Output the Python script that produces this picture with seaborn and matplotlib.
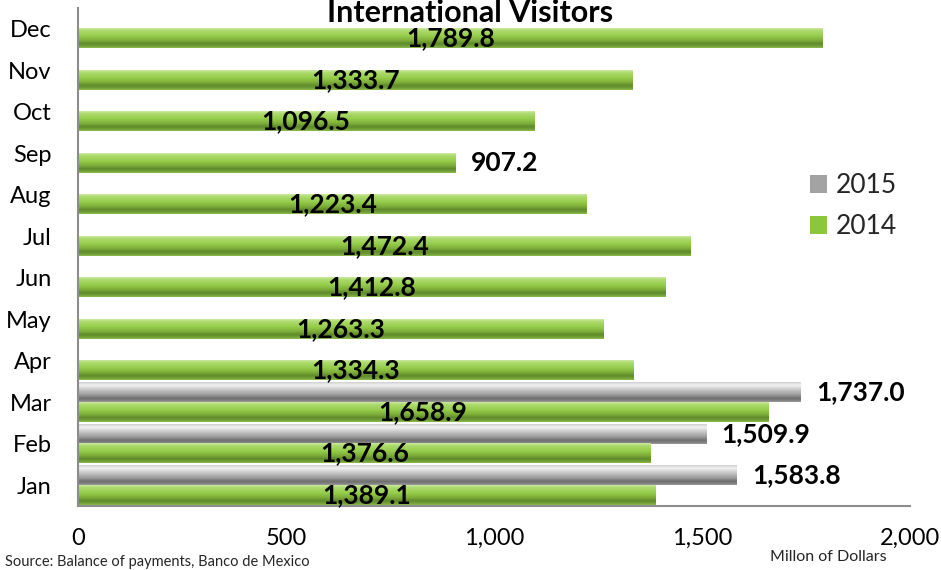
import numpy as np
import pandas as pd
import matplotlib
matplotlib.use("Agg")
import matplotlib.pyplot as plt
import seaborn as sns
from matplotlib.colors import to_rgb

months = ["Jan", "Feb", "Mar", "Apr", "May", "Jun", "Jul", "Aug", "Sep", "Oct", "Nov", "Dec"]
values_2014 = [1389.1, 1376.6, 1658.9, 1334.3, 1263.3, 1412.8, 1472.4, 1223.4, 907.2, 1096.5, 1333.7, 1789.8]
months_2015 = ["Jan", "Feb", "Mar"]
values_2015 = [1583.8, 1509.9, 1737.0]
outside_2014 = ["Sep"]
title = "International Visitors"
x_ticks = [0, 500, 1000, 1500, 2000]
x_label = "Millon of Dollars"
source = "Source: Balance of payments, Banco de Mexico"

df = pd.concat([
    pd.DataFrame({"month": months_2015, "value": values_2015, "year": "2015"}),
    pd.DataFrame({"month": months, "value": values_2014, "year": "2014"}),
], ignore_index=True)

sns.set_theme(style="white")
plt.rcParams["font.family"] = ["Lato", "DejaVu Sans"]

fig = plt.figure(figsize=(9.41, 5.70), dpi=100)
ax = fig.add_axes([78 / 941, 1 - 506 / 570, (910 - 78) / 941, (506 - 8) / 570])

order = months[::-1]
palette = {"2015": "#a3a3a3", "2014": "#8cc63f"}
sns.barplot(data=df, y="month", x="value", hue="year", order=order,
            hue_order=["2015", "2014"], palette=palette, orient="h",
            width=0.94, gap=0, ax=ax, saturation=1, legend=True,
            edgecolor="none", linewidth=0)


def grad(stops, n=64):
    pos = np.array([s[0] for s in stops])
    cols = np.array([to_rgb(s[1]) for s in stops])
    t = np.linspace(0, 1, n)
    arr = np.stack([np.interp(t, pos, cols[:, i]) for i in range(3)], axis=1)
    return arr[:, None, :]


grad_green = grad([(0, "#cfe9a6"), (0.1, "#b0dc72"), (0.4, "#94cc4a"), (0.62, "#7fae3a"),
                   (0.78, "#5f8a2b"), (0.9, "#6f9c35"), (1, "#8cba4c")])
grad_gray = grad([(0, "#cfcfcf"), (0.15, "#f2f2f2"), (0.4, "#c4c4c4"), (0.65, "#9a9a9a"),
                  (0.82, "#6e6e6e"), (0.92, "#808080"), (1, "#9a9a9a")])

hue_levels = ["2015", "2014"]
for cont, lvl in zip(ax.containers, hue_levels):
    g = grad_gray if lvl == "2015" else grad_green
    for p in cont.patches:
        w = p.get_width()
        if not np.isfinite(w) or w == 0:
            continue
        y0, h = p.get_y(), p.get_height()
        ax.imshow(g, extent=(0, w, y0 + h, y0), aspect="auto", zorder=2.5,
                  interpolation="bilinear")
        idx = int(round(y0 + h / 2))
        month = order[idx]
        label = f"{w:,.1f}"
        if lvl == "2015" or month in outside_2014:
            ax.annotate(label, xy=(w, y0 + h / 2), xytext=(11, 0),
                        textcoords="offset points", ha="left", va="center",
                        fontsize=19, fontweight="bold", color="black", zorder=4)
        else:
            ax.text(w / 2, y0 + h / 2, label, ha="center", va="center",
                    fontsize=19, fontweight="bold", color="black", zorder=4)

ax.set_xlim(0, 2000)
ax.set_ylim(11.5, -0.5)
ax.set_xticks(x_ticks)
ax.set_xticklabels([f"{t:,}" for t in x_ticks])
ax.set_xlabel("")
ax.set_ylabel("")
ax.tick_params(axis="y", length=0, pad=19, labelsize=17, labelcolor="black")
ax.tick_params(axis="x", length=0, pad=16, labelsize=17, labelcolor="black")
for s in ["top", "right"]:
    ax.spines[s].set_visible(False)
for s in ["left", "bottom"]:
    ax.spines[s].set_color("#8c8c8c")
    ax.spines[s].set_linewidth(1.5)
ax.grid(False)

handles, labels = ax.get_legend_handles_labels()
ax.legend_.remove()
fig.legend(handles, labels, loc="upper left", bbox_to_anchor=(797 / 941, 1 - 160 / 570),
           frameon=False, fontsize=19, handlelength=0.65, handleheight=0.65,
           handletextpad=0.3, labelspacing=0.6, borderpad=0)

fig.text(470 / 941, 1 - 22 / 570, title, ha="center", va="baseline",
         fontsize=22, fontweight="bold", color="black")
fig.text(828 / 941, 1 - 557 / 570, x_label, ha="center", va="center", fontsize=11.5)
fig.text(5 / 941, 1 - 569 / 570, source, ha="left", va="bottom", fontsize=10.5)

fig.savefig("out.png", dpi=100)
